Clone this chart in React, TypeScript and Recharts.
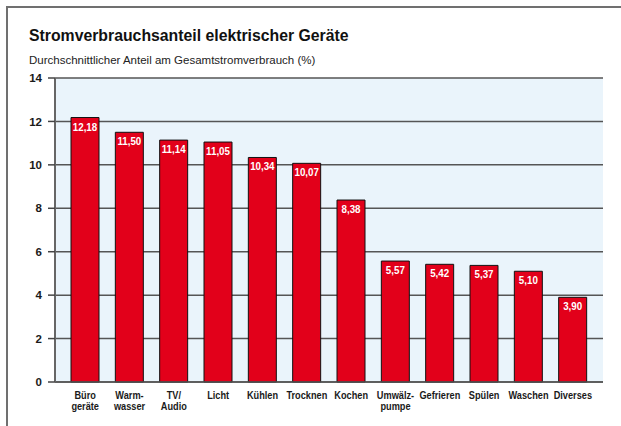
import { Bar, BarChart, CartesianGrid, LabelList, XAxis, YAxis } from "recharts";

const categories = [
  "Büro\ngeräte",
  "Warm-\nwasser",
  "TV/\nAudio",
  "Licht",
  "Kühlen",
  "Trocknen",
  "Kochen",
  "Umwälz-\npumpe",
  "Gefrieren",
  "Spülen",
  "Waschen",
  "Diverses",
];
const shares = [12.18, 11.5, 11.14, 11.05, 10.34, 10.07, 8.38, 5.57, 5.42, 5.37, 5.1, 3.9];
const yTicks = [0, 2, 4, 6, 8, 10, 12, 14];

const data = categories.map((name, i) => ({ name, value: shares[i] }));

const sans = "'Liberation Sans', Arial, sans-serif";

// the original uses a condensed grotesk, so squeeze Liberation Sans horizontally
function CategoryTick({ x, y, payload }: any) {
  const lines = String(payload.value).split("\n");
  return (
    <text
      transform={`translate(${x} ${y}) scale(0.8 1)`}
      textAnchor="middle"
      fill="#1a1a1a"
      fontFamily={sans}
      fontWeight="bold"
      fontSize={11.5}
    >
      {lines.map((l, i) => (
        <tspan key={i} x={0} y={9 + i * 11}>
          {l}
        </tspan>
      ))}
    </text>
  );
}

function ValueLabel({ x, y, width, value }: any) {
  const cx = Number(x) + Number(width) / 2;
  return (
    <text
      transform={`translate(${cx} ${Number(y) + 13}) scale(0.85 1)`}
      textAnchor="middle"
      fill="#fff"
      fontFamily={sans}
      fontWeight="bold"
      fontSize={11.5}
    >
      {Number(value).toFixed(2).replace(".", ",")}
    </text>
  );
}

export default function App() {
  return (
    <div style={{ position: "fixed", left: 0, top: 0, width: 621, height: 426, background: "#fff" }}>
      <div
        style={{
          position: "absolute",
          left: 6,
          top: 6,
          right: 0,
          bottom: 0,
          borderTop: "2px solid #707070",
          borderLeft: "2px solid #707070",
        }}
      />
      <div
        style={{
          position: "absolute",
          left: 29,
          top: 27,
          fontFamily: sans,
          fontWeight: "bold",
          fontSize: 15.8,
          color: "#111",
        }}
      >
        Stromverbrauchsanteil elektrischer Geräte
      </div>
      <div
        style={{
          position: "absolute",
          left: 29,
          top: 54,
          fontFamily: sans,
          fontSize: 11.5,
          color: "#222",
        }}
      >
        Durchschnittlicher Anteil am Gesamtstromverbrauch (%)
      </div>
      <BarChart
        width={621}
        height={426}
        data={data}
        margin={{ top: 78, right: 18, bottom: 4, left: 0 }}
        barCategoryGap={8}
        style={{ position: "absolute", left: 0, top: 0 }}
      >
        <CartesianGrid vertical={false} fill="#eaf4fb" stroke="#555" strokeWidth={1.5} />
        <XAxis
          dataKey="name"
          interval={0}
          height={40}
          padding={{ left: 8, right: 8 }}
          axisLine={{ stroke: "#555", strokeWidth: 1.5 }}
          tickLine={false}
          tick={<CategoryTick />}
        />
        <YAxis
          width={55}
          domain={[0, 14]}
          ticks={yTicks}
          interval={0}
          tickSize={7}
          tickMargin={6}
          axisLine={{ stroke: "#666", strokeWidth: 2 }}
          tickLine={{ stroke: "#444", strokeWidth: 1.5 }}
          tick={{ fill: "#1a1a1a", fontFamily: sans, fontWeight: "bold", fontSize: 11.5 }}
        />
        <YAxis
          yAxisId="frame"
          orientation="right"
          width={0}
          domain={[0, 14]}
          tick={false}
          tickLine={false}
          axisLine={{ stroke: "#222", strokeWidth: 1.5 }}
        />
        <Bar dataKey="value" fill="#e2001a" stroke="#111" strokeWidth={1} isAnimationActive={false}>
          <LabelList dataKey="value" content={<ValueLabel />} />
        </Bar>
      </BarChart>
    </div>
  );
}
